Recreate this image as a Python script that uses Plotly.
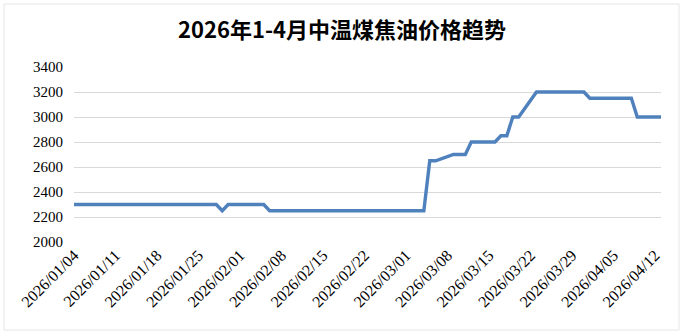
import plotly.graph_objects as go

title_text = "2026年1-4月中温煤焦油价格趋势"
dates = ["2026-01-04", "2026-01-28", "2026-01-29", "2026-01-30", "2026-02-05", "2026-02-06",
         "2026-03-04", "2026-03-05", "2026-03-06", "2026-03-09", "2026-03-11", "2026-03-12",
         "2026-03-16", "2026-03-17", "2026-03-18", "2026-03-19", "2026-03-20", "2026-03-23",
         "2026-03-31", "2026-04-01", "2026-04-08", "2026-04-09", "2026-04-13"]
prices = [2300, 2300, 2250, 2300, 2300, 2250,
          2250, 2650, 2650, 2700, 2700, 2800,
          2800, 2850, 2850, 3000, 3000, 3200,
          3200, 3150, 3150, 3000, 3000]
tick_dates = ["2026-01-04", "2026-01-11", "2026-01-18", "2026-01-25", "2026-02-01",
              "2026-02-08", "2026-02-15", "2026-02-22", "2026-03-01", "2026-03-08",
              "2026-03-15", "2026-03-22", "2026-03-29", "2026-04-05", "2026-04-12"]
tick_labels = [d.replace("-", "/") for d in tick_dates]
y_ticks = [2000, 2200, 2400, 2600, 2800, 3000, 3200, 3400]

SERIF = "Times New Roman, Liberation Serif, DejaVu Serif, serif"

fig = go.Figure()
fig.add_trace(go.Scatter(x=dates, y=prices, mode="lines",
                         line=dict(color="#4F81BD", width=3.4), showlegend=False))

L, R, T, B = 74, 23, 67, 94
W, H = 684, 336
pw = W - L - R
ph = H - T - B

fig.update_layout(
    width=W, height=H,
    margin=dict(l=L, r=R, t=T, b=B),
    paper_bgcolor="white", plot_bgcolor="white",
    title=dict(text="<b>" + title_text + "</b>", x=0.5, xanchor="center",
               y=1 - 30 / H, yanchor="middle",
               font=dict(family="Noto Sans CJK SC", size=22, color="#000000")),
    xaxis=dict(type="date", range=["2026-01-04", "2026-04-13"],
               tickvals=tick_dates, ticktext=tick_labels, tickangle=-45,
               showgrid=False, zeroline=False, showline=False, ticks="",
               tickfont=dict(family=SERIF, size=16, color="#000000")),
    yaxis=dict(range=[2000, 3400], tickvals=y_ticks, showgrid=True,
               gridcolor="#D9D9D9", gridwidth=1, zeroline=False, showline=False,
               ticks="", ticklabelstandoff=10,
               tickfont=dict(family=SERIF, size=15, color="#000000")),
    shapes=[dict(type="rect", xref="paper", yref="paper",
                 x0=(4 - L) / pw, x1=(679 - L) / pw,
                 y0=-(330 - T - ph) / ph, y1=1 + (T - 4) / ph,
                 line=dict(color="#E6E6E6", width=1))],
)

fig.write_html("out.html")
